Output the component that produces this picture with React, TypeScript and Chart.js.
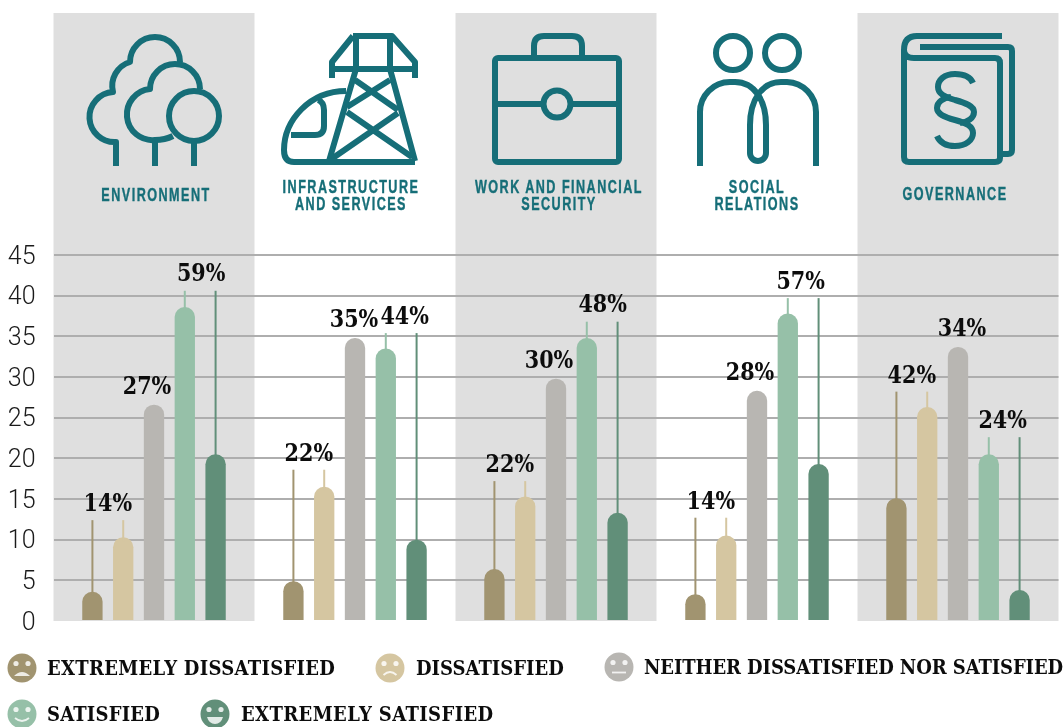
import React, { useEffect, useRef } from "react";
import { Chart, registerables } from "chart.js";

Chart.register(...registerables);

const categories = ["Environment", "Infrastructure and services", "Work and financial security", "Social relations", "Governance"];
const seriesNames = ["EXTREMELY DISSATISFIED", "DISSATISFIED", "NEITHER DISSATISFIED NOR SATISFIED", "SATISFIED", "EXTREMELY SATISFIED"];
const seriesColors = ["#a19470", "#d5c6a1", "#b8b6b2", "#96c0a8", "#618f79"];

const extremelyDissatisfied = [3.6, 4.9, 6.4, 3.3, 15.1];
const dissatisfied = [10.3, 16.5, 15.3, 10.5, 26.3];
const neither = [26.6, 34.8, 29.8, 28.3, 33.7];
const satisfied = [38.6, 33.5, 34.8, 37.8, 20.5];
const extremelySatisfied = [20.5, 10, 13.3, 19.3, 3.8];
const seriesValues = [extremelyDissatisfied, dissatisfied, neither, satisfied, extremelySatisfied];

const lowBracketTop = [12.4, 18.6, 17.2, 12.7, 28.2];
const highBracketTop = [40.6, 35.4, 36.8, 39.7, 22.6];
const lowPercent = [14, 22, 22, 14, 42];
const midPercent = [27, 35, 30, 28, 34];
const highPercent = [59, 44, 48, 57, 24];
const yTicks = [0, 5, 10, 15, 20, 25, 30, 35, 40, 45];

const TEAL = "#166e78";
const SLAB = '"DejaVu Serif Condensed", "DejaVu Serif", serif';
const midNudge = [-7, -1, -7, -7, 4];
const highNudge = [1, 3.5, 0.5, -2.5, -1.5];

const chartDecor = {
  id: "chartDecor",
  beforeDraw(chart: any) {
    const { ctx, scales, chartArea } = chart;
    const step = scales.x.getPixelForTick(1) - scales.x.getPixelForTick(0);
    ctx.save();
    ctx.fillStyle = "#dfdfdf";
    [0, 2, 4].forEach((i) => {
      const c = scales.x.getPixelForTick(i);
      ctx.fillRect(c - step / 2, 13, step, chartArea.bottom - 13);
    });
    ctx.restore();
    // the reference's digits sit a little below the middle of each grid line
    scales.y.getLabelItems(chartArea).forEach((item: any) => {
      if (!item.__moved) {
        item.textOffset += 2.5;
        item.__moved = true;
      }
    });
  },
  afterDatasetsDraw(chart: any) {
    const { ctx, scales } = chart;
    const y = scales.y;
    const barX = (s: number, i: number) => chart.getDatasetMeta(s).data[i].x;
    const barY = (s: number, i: number) => chart.getDatasetMeta(s).data[i].y;
    ctx.save();
    const whisker = (s: number, i: number, top: number) => {
      ctx.strokeStyle = seriesColors[s];
      ctx.lineWidth = 2;
      ctx.beginPath();
      ctx.moveTo(barX(s, i), barY(s, i) + 4);
      ctx.lineTo(barX(s, i), y.getPixelForValue(top));
      ctx.stroke();
    };
    const label = (text: string, px: number, py: number) => {
      ctx.save();
      ctx.translate(px, py);
      ctx.scale(0.92, 1);
      ctx.fillText(text, 0, 0);
      ctx.restore();
    };
    ctx.font = `bold 25px ${SLAB}`;
    ctx.fillStyle = "#0c0c0c";
    ctx.textAlign = "center";
    ctx.textBaseline = "middle";
    categories.forEach((_, i) => {
      whisker(0, i, lowBracketTop[i]);
      whisker(1, i, lowBracketTop[i]);
      whisker(3, i, highBracketTop[i]);
      whisker(4, i, highBracketTop[i]);
      const lowX = (barX(0, i) + barX(1, i)) / 2;
      const highX = (barX(3, i) + barX(4, i)) / 2 + highNudge[i];
      label(`${lowPercent[i]}%`, lowX, y.getPixelForValue(lowBracketTop[i]) - 15.5);
      label(`${midPercent[i]}%`, barX(2, i) + midNudge[i], barY(2, i) - 17);
      label(`${highPercent[i]}%`, highX, y.getPixelForValue(highBracketTop[i]) - 16);
    });
    ctx.restore();
  },
};

const headings: { lines: string[]; cx: number; y: number }[] = [
  { lines: ["ENVIRONMENT"], cx: 155.5, y: 187 },
  { lines: ["INFRASTRUCTURE", "AND SERVICES"], cx: 350.5, y: 179 },
  { lines: ["WORK AND FINANCIAL", "SECURITY"], cx: 559, y: 179 },
  { lines: ["SOCIAL", "RELATIONS"], cx: 757, y: 179 },
  { lines: ["GOVERNANCE"], cx: 955, y: 186 },
];

const legendSpots = [
  { cx: 22, cy: 668, tx: 47, spacing: 0.3 },
  { cx: 390, cy: 668, tx: 416, spacing: 0 },
  { cx: 619, cy: 667, tx: 644, spacing: -0.1 },
  { cx: 22, cy: 714, tx: 47, spacing: 0.2 },
  { cx: 215, cy: 714, tx: 241, spacing: 0.4 },
];

function Face({ kind, x, y, color }: { kind: number; x: number; y: number; color: string }) {
  const mark = "rgba(255,255,255,0.82)";
  return (
    <g transform={`translate(${x},${y})`}>
      <circle r={14.5} fill={color} />
      <circle cx={-6} cy={-4.5} r={2.6} fill={mark} />
      <circle cx={6} cy={-4.5} r={2.6} fill={mark} />
      {kind === 0 && <path d="M-8,8 Q0,0 8,8 Z" fill={mark} />}
      {kind === 1 && <path d="M-6.5,7 Q0,1 6.5,7" fill="none" stroke={mark} strokeWidth={1.8} />}
      {kind === 2 && <path d="M-7,5.5 H7" fill="none" stroke={mark} strokeWidth={1.8} />}
      {kind === 3 && <path d="M-7,4 Q0,10 7,4" fill="none" stroke={mark} strokeWidth={1.8} />}
      {kind === 4 && <path d="M-8,3 Q0,3 8,3 Q6,10 0,10 Q-6,10 -8,3 Z" fill={mark} />}
    </g>
  );
}

function Icons() {
  const line = { fill: "none", stroke: TEAL, strokeWidth: 6, strokeLinejoin: "round" as const };
  return (
    <g {...line}>
      {/* trees */}
      <path d="M116,166 V142 A25,25 0 0 1 113,92 A25,25 0 0 1 130,62 A25,25 0 0 1 180,62" />
      <path d="M173,136 Q165,140 155,140 A25,25 0 0 1 150,89 A25,25 0 0 1 200,89" />
      <circle cx={194} cy={116} r={25} />
      <path d="M155,140 V166 M194,141 V166" />
      {/* pylon and train */}
      <path d="M353,36 H392 L415,62 V78 M353,36 L332,62 V78 M330,69 H417" />
      <path d="M356,36 V69 M390,36 V69 M356,69 L329,161 M390,69 L415,161" />
      <path d="M355,80 L398,110 M390,80 L347,107 M347,112 L412,157 M398,113 L330,160" />
      <path d="M346,91 C310,91 284,120 284,150 Q284,162 294,162 H415" />
      <path d="M318,100 Q324,102 324,110 V126 Q324,135 315,135 H291" />
      {/* briefcase */}
      <rect x={495} y={58} width={124} height={104} rx={3} />
      <path d="M534,58 V46 Q534,36 544,36 H572 Q582,36 582,46 V58 M495,104 H543 M571,104 H619" />
      <circle cx={557} cy={104} r={13.5} />
      {/* people */}
      <circle cx={733} cy={53} r={17} />
      <circle cx={782} cy={53} r={17} />
      <path d="M700,166 V112 A30,30 0 0 1 730,82 H735 C754,82 766,100 766,125 V153 A8,8 0 0 1 750,153 V125 C750,100 762,82 781,82 H787 A30,30 0 0 1 816,112 V166" />
      {/* law book */}
      <path d="M1002,36 H917 Q904,36 904,50 Q904,58 914,58 H995 Q1000,58 1000,63 V158 Q1000,162 995,162 H909 Q904,162 904,157 V50" />
      <path d="M920,47 H1008 Q1012,47 1012,51 V150 Q1012,154 1008,154 H1000" />
      <path d="M973,83 C970,76 963,74 955,74 C944,74 938,80 938,87 C938,94 945,97 955,100 C966,103 974,106 974,112 C974,118 968,122 960,123" />
      <path d="M937,136 C940,143 947,146 955,146 C966,146 973,140 973,133 C973,126 966,123 955,120 C944,117 937,114 937,108 C937,102 943,98 951,97" />
    </g>
  );
}

export default function App() {
  const ref = useRef<HTMLCanvasElement>(null);
  useEffect(() => {
    const chart = new Chart(ref.current as HTMLCanvasElement, {
      type: "bar",
      data: {
        labels: categories,
        datasets: seriesNames.map((name, s) => ({
          label: name,
          data: seriesValues[s],
          backgroundColor: seriesColors[s],
          borderRadius: { topLeft: 10, topRight: 10, bottomLeft: 0, bottomRight: 0 },
          categoryPercentage: 0.766,
          barPercentage: 0.66,
        })),
      },
      options: {
        animation: false,
        responsive: false,
        layout: { padding: { top: 255, bottom: 106, right: 5.5, left: 0 } },
        plugins: { legend: { display: false }, tooltip: { enabled: false } },
        scales: {
          x: { display: false },
          y: {
            min: 0,
            max: 45,
            afterBuildTicks: (axis: any) => {
              axis.ticks = yTicks.map((value) => ({ value }));
            },
            afterFit: (axis: any) => {
              axis.width = 53.5;
            },
            border: { display: false },
            grid: {
              drawTicks: false,
              lineWidth: 2,
              color: (c: any) => (c.tick && c.tick.value === 0 ? "rgba(0,0,0,0)" : "#aeaeae"),
            },
            ticks: {
              padding: 18,
              color: "#1a1a1a",
              font: { family: "Roboto", size: 25, weight: "300" },
            },
          },
        },
      } as any,
      plugins: [chartDecor],
    });
    return () => chart.destroy();
  }, []);

  return (
    <div style={{ position: "absolute", left: 0, top: 0, width: 1064, height: 727, overflow: "hidden", background: "#fff" }}>
      <canvas ref={ref} width={1064} height={727} style={{ position: "absolute", left: 0, top: 0 }} />
      <svg width={1064} height={727} style={{ position: "absolute", left: 0, top: 0 }}>
        <Icons />
        {seriesColors.map((c, i) => (
          <Face key={i} kind={i} x={legendSpots[i].cx} y={legendSpots[i].cy} color={c} />
        ))}
      </svg>
      {headings.map((h) => (
        <div
          key={h.lines[0]}
          style={{
            position: "absolute",
            left: h.cx - 150,
            top: h.y,
            width: 300,
            textAlign: "center",
            color: TEAL,
            fontFamily: '"Liberation Sans", sans-serif',
            fontWeight: 700,
            fontSize: 18,
            lineHeight: "17px",
            letterSpacing: 2.1,
            transform: "scaleX(0.7)",
            WebkitTextStroke: `0.4px ${TEAL}`,
          }}
        >
          {h.lines.map((l) => (
            <div key={l}>{l}</div>
          ))}
        </div>
      ))}
      {seriesNames.map((name, i) => (
        <div
          key={name}
          style={{
            position: "absolute",
            left: legendSpots[i].tx,
            top: legendSpots[i].cy - 13,
            whiteSpace: "nowrap",
            color: "#0c0c0c",
            fontFamily: SLAB,
            fontWeight: 700,
            fontSize: 20,
            lineHeight: "26px",
            letterSpacing: legendSpots[i].spacing,
          }}
        >
          {name}
        </div>
      ))}
    </div>
  );
}
